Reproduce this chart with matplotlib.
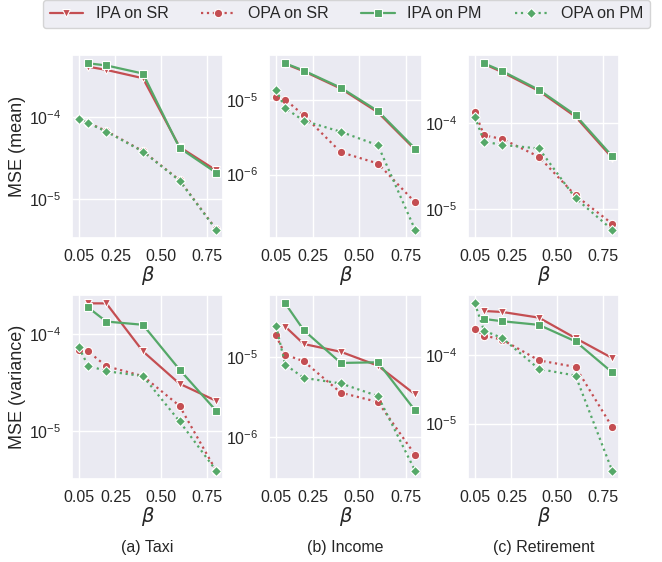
import matplotlib
matplotlib.use("Agg")
import matplotlib.pyplot as plt
import seaborn as sns

sns.set_theme(style="darkgrid")
plt.rcParams['font.family'] = ['Liberation Sans', 'DejaVu Sans']

beta_ipa = [0.1, 0.2, 0.4, 0.6, 0.8]
beta_opa = [0.05, 0.1, 0.2, 0.4, 0.6, 0.8]
xticks = [0.05, 0.25, 0.50, 0.75]
xticklabels = ["0.05", "0.25", "0.50", "0.75"]

datasets = ["(a) Taxi", "(b) Income", "(c) Retirement"]
row_labels = ["MSE (mean)", "MSE (variance)"]
series_names = ["IPA on SR", "OPA on SR", "IPA on PM", "OPA on PM"]

# mean
taxi_mean_ipa_sr = [4.15e-4, 3.79e-4, 3.0e-4, 4.35e-5, 2.25e-5]
taxi_mean_opa_sr = [9.6e-5, 8.6e-5, 6.8e-5, 3.86e-5, 1.71e-5, 4.3e-6]
taxi_mean_ipa_pm = [4.56e-4, 4.3e-4, 3.42e-4, 4.23e-5, 2.11e-5]
taxi_mean_opa_pm = [9.6e-5, 8.5e-5, 6.7e-5, 3.82e-5, 1.69e-5, 4.25e-6]

income_mean_ipa_sr = [3.07e-5, 2.45e-5, 1.43e-5, 6.86e-6, 2.17e-6]
income_mean_opa_sr = [1.11e-5, 1.02e-5, 6.26e-6, 2.0e-6, 1.41e-6, 4.25e-7]
income_mean_ipa_pm = [3.13e-5, 2.5e-5, 1.47e-5, 7.14e-6, 2.24e-6]
income_mean_opa_pm = [1.39e-5, 7.8e-6, 5.3e-6, 3.76e-6, 2.48e-6, 1.82e-7]

ret_mean_ipa_sr = [4.92e-4, 3.94e-4, 2.38e-4, 1.19e-4, 3.95e-5]
ret_mean_opa_sr = [1.36e-4, 7.2e-5, 6.54e-5, 4.05e-5, 1.43e-5, 6.7e-6]
ret_mean_ipa_pm = [5.0e-4, 4.05e-4, 2.45e-4, 1.24e-4, 4.12e-5]
ret_mean_opa_pm = [1.19e-4, 6.09e-5, 5.57e-5, 5.06e-5, 1.33e-5, 5.7e-6]

# variance
taxi_var_ipa_sr = [2.08e-4, 2.08e-4, 6.65e-5, 3.08e-5, 2.05e-5]
taxi_var_opa_sr = [6.9e-5, 6.65e-5, 4.67e-5, 3.69e-5, 1.82e-5, 3.9e-6]
taxi_var_ipa_pm = [1.89e-4, 1.35e-4, 1.25e-4, 4.31e-5, 1.62e-5]
taxi_var_opa_pm = [7.3e-5, 4.74e-5, 4.15e-5, 3.69e-5, 1.26e-5, 3.9e-6]

income_var_ipa_sr = [2.39e-5, 1.45e-5, 1.16e-5, 7.8e-6, 3.43e-6]
income_var_opa_sr = [1.85e-5, 1.07e-5, 8.84e-6, 3.6e-6, 2.76e-6, 6.1e-7]
income_var_ipa_pm = [4.64e-5, 2.15e-5, 8.43e-6, 8.6e-6, 2.17e-6]
income_var_opa_pm = [2.46e-5, 8.04e-6, 5.5e-6, 4.69e-6, 3.27e-6, 3.87e-7]

ret_var_ipa_sr = [4.31e-4, 4.17e-4, 3.45e-4, 1.74e-4, 8.95e-5]
ret_var_opa_sr = [2.37e-4, 1.9e-4, 1.65e-4, 8.28e-5, 6.64e-5, 8.95e-6]
ret_var_ipa_pm = [3.3e-4, 3.06e-4, 2.71e-4, 1.56e-4, 5.56e-5]
ret_var_opa_pm = [5.56e-4, 2.24e-4, 1.74e-4, 6.21e-5, 4.98e-5, 2.08e-6]

grid_data = [
    [(taxi_mean_ipa_sr, taxi_mean_opa_sr, taxi_mean_ipa_pm, taxi_mean_opa_pm),
     (income_mean_ipa_sr, income_mean_opa_sr, income_mean_ipa_pm, income_mean_opa_pm),
     (ret_mean_ipa_sr, ret_mean_opa_sr, ret_mean_ipa_pm, ret_mean_opa_pm)],
    [(taxi_var_ipa_sr, taxi_var_opa_sr, taxi_var_ipa_pm, taxi_var_opa_pm),
     (income_var_ipa_sr, income_var_opa_sr, income_var_ipa_pm, income_var_opa_pm),
     (ret_var_ipa_sr, ret_var_opa_sr, ret_var_ipa_pm, ret_var_opa_pm)],
]

red = "#C44E52"
green = "#55A868"
styles = [
    dict(color=red, linestyle="-", marker="v", ms=6),
    dict(color=red, linestyle=":", marker="o", ms=6),
    dict(color=green, linestyle="-", marker="s", ms=6),
    dict(color=green, linestyle=":", marker="D", ms=5.5),
]

fig = plt.figure(figsize=(6.62, 5.62), dpi=100)
W, H = 662, 562
col_lr = [(72, 223), (269, 422), (468, 619)]
row_tb = [(55, 238), (295, 479)]

handles = []
for r in range(2):
    for c in range(3):
        l, rr = col_lr[c]
        t, b = row_tb[r]
        ax = fig.add_axes([l / W, 1 - b / H, (rr - l) / W, (b - t) / H])
        ipa_sr, opa_sr, ipa_pm, opa_pm = grid_data[r][c]
        xs = [beta_ipa, beta_opa, beta_ipa, beta_opa]
        ys = [ipa_sr, opa_sr, ipa_pm, opa_pm]
        hs = []
        for x, y, st, name in zip(xs, ys, styles, series_names):
            h, = ax.plot(x, y, label=name, lw=1.6, markeredgecolor="white",
                         markeredgewidth=0.8, **st)
            hs.append(h)
        if not handles:
            handles = hs
        ax.set_yscale("log")
        ax.set_xticks(xticks)
        ax.set_xticklabels(xticklabels)
        ax.tick_params(axis="both", labelsize=11.5, pad=2)
        ax.set_xlabel(r"$\beta$", fontsize=14, labelpad=0)
        ax.minorticks_off()
        if c == 0:
            ax.set_ylabel(row_labels[r], fontsize=13)
            ax.yaxis.set_label_coords(-0.305, 0.5)
        if r == 1:
            ax.text(0.5, -0.37, datasets[c], transform=ax.transAxes,
                    ha="center", va="center", fontsize=11.5)

fig.legend(handles, series_names, loc="upper center", ncol=4,
           bbox_to_anchor=(346.5 / W, 1.0), fontsize=11.5, frameon=True,
           handlelength=2.1, columnspacing=2.05, borderaxespad=0.0)

fig.savefig("out.png", dpi=100)
